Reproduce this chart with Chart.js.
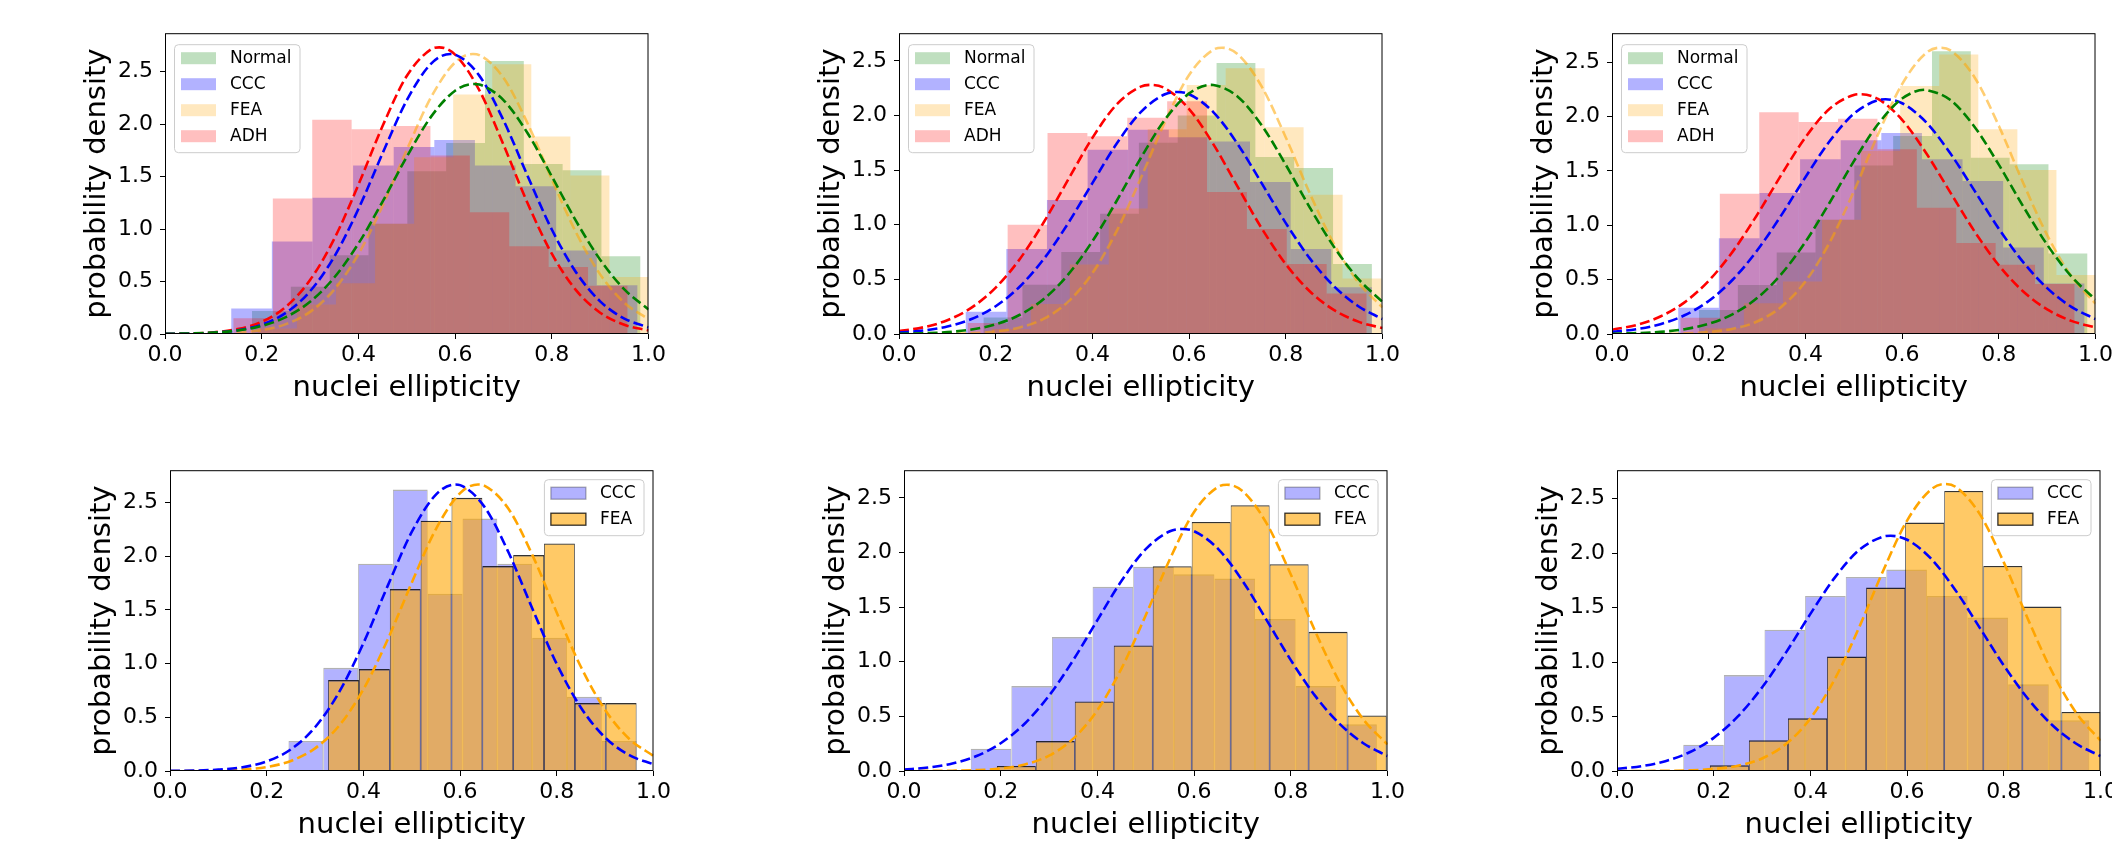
<!DOCTYPE html>
<html>
<head>
<meta charset="utf-8">
<script src="https://cdn.jsdelivr.net/npm/chart.js@4.4.1/dist/chart.umd.min.js"></script>
<style>
  html, body { margin: 0; padding: 0; background: #fff; }
  body { width: 2112px; height: 864px; position: relative; overflow: hidden; }
  canvas { position: absolute; }
</style>
</head>
<body>
<canvas id="p1"></canvas>
<canvas id="p2"></canvas>
<canvas id="p3"></canvas>
<canvas id="p4"></canvas>
<canvas id="p5"></canvas>
<canvas id="p6"></canvas>
<script>
// axis ticks
const xTicks = [0.0, 0.2, 0.4, 0.6, 0.8, 1.0];
const yTicks = [0.0, 0.5, 1.0, 1.5, 2.0, 2.5];

// histograms: [first edge, last edge] and bar heights (density)
// sample A (top left, top right, bottom right)
const normalA_span = [0.180, 0.983];
const normalA = [0.22, 0.45, 0.75, 1.05, 1.55, 1.82, 2.60, 1.62, 1.56, 0.74];
const cccA_span = [0.137, 0.977];
const cccA = [0.242, 0.881, 1.297, 1.606, 1.781, 1.848, 1.606, 1.408, 0.796, 0.465];
const feaA_span = [0.192, 1.000];
const feaA = [0.052, 0.282, 0.483, 1.050, 1.683, 2.280, 2.570, 1.882, 1.509, 0.542];
const adhA_span = [0.1415, 0.9565];
const adhA = [0.15, 1.29, 2.04, 1.95, 1.98, 1.70, 1.16, 0.836, 0.637, 0.46];

// sample B (middle column)
const normalB_span = [0.175, 0.978];
const normalB = [0.15, 0.45, 0.75, 1.10, 1.75, 2.00, 2.48, 1.62, 1.52, 0.64];
const cccB_span = [0.138, 0.978];
const cccB = [0.204, 0.777, 1.226, 1.686, 1.869, 1.800, 1.762, 1.390, 0.777, 0.427];
const feaB_span = [0.192, 0.998];
const feaB = [0.046, 0.274, 0.637, 1.149, 1.875, 2.280, 2.433, 1.893, 1.274, 0.509];
const adhB_span = [0.1422, 0.967];
const adhB = [0.10, 1.00, 1.84, 1.81, 1.98, 2.13, 1.30, 0.96, 0.64, 0.37];

// sample C (bottom left)
const cccC_span = [0.245, 0.965];
const cccC = [0.28, 0.96, 1.93, 2.62, 1.65, 2.35, 1.93, 1.24, 0.69, 0.28];
const feaC_span = [0.327, 0.965];
const feaC = [0.847, 0.949, 1.694, 2.33, 2.543, 1.908, 2.01, 2.118, 0.633, 0.633];

// fitted density curves, sampled at fitX, plus the peak [x, y]
const fitX = [0, 0.05, 0.1, 0.15, 0.2, 0.25, 0.3, 0.35, 0.4, 0.45, 0.5,
              0.55, 0.6, 0.65, 0.7, 0.75, 0.8, 0.85, 0.9, 0.95, 1.0];

const normalFit1 = [0.0017, 0.0049, 0.0135, 0.0337, 0.0769, 0.161, 0.307, 0.538, 0.861, 1.261, 1.688,
                    2.068, 2.317, 2.376, 2.228, 1.912, 1.501, 1.077, 0.708, 0.425, 0.234];
const normalPeak1 = [0.639, 2.381];
const cccFit1 = [0.0011, 0.0039, 0.0125, 0.0352, 0.0891, 0.2015, 0.407, 0.736, 1.190, 1.721, 2.225,
                 2.573, 2.661, 2.461, 2.036, 1.505, 0.995, 0.589, 0.311, 0.147, 0.062];
const cccPeak1 = [0.590, 2.667];
const feaFit1 = [0.0003, 0.0012, 0.0042, 0.0133, 0.0374, 0.0938, 0.211, 0.423, 0.760, 1.221, 1.753,
                 2.252, 2.587, 2.657, 2.441, 2.005, 1.473, 0.968, 0.568, 0.298, 0.140];
const feaPeak1 = [0.637, 2.667];
const adhFit1 = [0.0015, 0.0052, 0.0165, 0.0465, 0.116, 0.259, 0.514, 0.906, 1.421, 1.981, 2.457,
                 2.711, 2.661, 2.323, 1.804, 1.245, 0.765, 0.418, 0.203, 0.088, 0.034];
const adhPeak1 = [0.567, 2.73];

const normalFit2 = [0.0025, 0.0069, 0.0175, 0.041, 0.0885, 0.176, 0.323, 0.545, 0.849, 1.217, 1.610,
                    1.962, 2.202, 2.279, 2.174, 1.911, 1.548, 1.155, 0.795, 0.504, 0.294];
const normalPeak2 = [0.646, 2.28];
const cccFit2 = [0.0136, 0.0317, 0.0685, 0.137, 0.254, 0.435, 0.690, 1.015, 1.381, 1.741, 2.031,
                 2.194, 2.194, 2.031, 1.741, 1.381, 1.015, 0.690, 0.435, 0.254, 0.137];
const cccPeak2 = [0.575, 2.215];
const feaFit2 = [0.0002, 0.0007, 0.0025, 0.008, 0.0233, 0.0605, 0.141, 0.296, 0.557, 0.940, 1.426,
                 1.940, 2.371, 2.602, 2.563, 2.266, 1.799, 1.283, 0.821, 0.472, 0.243];
const feaPeak2 = [0.668, 2.62];
const adhFit2 = [0.0271, 0.0608, 0.126, 0.241, 0.424, 0.687, 1.027, 1.414, 1.795, 2.100, 2.264,
                 2.249, 2.059, 1.738, 1.351, 0.968, 0.639, 0.389, 0.218, 0.113, 0.054];
const adhPeak2 = [0.521, 2.28];

const normalFit3 = [0.0029, 0.0078, 0.0193, 0.0443, 0.0935, 0.183, 0.330, 0.550, 0.847, 1.207, 1.587,
                    1.928, 2.165, 2.245, 2.151, 1.904, 1.557, 1.177, 0.821, 0.530, 0.316];
const normalPeak3 = [0.648, 2.246];
const cccFit3 = [0.0199, 0.0439, 0.090, 0.172, 0.304, 0.501, 0.767, 1.091, 1.442, 1.772, 2.025,
                 2.150, 2.122, 1.946, 1.659, 1.316, 0.968, 0.663, 0.422, 0.250, 0.137];
const cccPeak3 = [0.566, 2.158];
const feaFit3 = [0.0001, 0.0005, 0.0018, 0.0059, 0.0178, 0.0478, 0.115, 0.249, 0.483, 0.840, 1.310,
                 1.833, 2.298, 2.585, 2.608, 2.359, 1.914, 1.393, 0.909, 0.532, 0.279];
const feaPeak3 = [0.679, 2.633];
const adhFit3 = [0.039, 0.0822, 0.161, 0.291, 0.489, 0.760, 1.095, 1.462, 1.808, 2.071, 2.198,
                 2.162, 1.970, 1.662, 1.300, 0.942, 0.632, 0.393, 0.226, 0.121, 0.060];
const adhPeak3 = [0.514, 2.205];

// upper y limit of each panel
const yMax = [2.865, 2.753, 2.766, 2.80, 2.753, 2.76];

// ---- layout / styles ----
const PAD_L = 110, PAD_T = 20, PAD_R = 20, PAD_B = 90;
const PLOT_W = 484, PLOT_H = 301;
const FONT = "'DejaVu Sans', 'Liberation Sans', sans-serif";
const tickFont = { family: FONT, size: 22 };
const titleFont = { family: FONT, size: 29 };

const topStyle = {
  Normal: { fill: 'rgba(0,128,0,0.25)', line: '#008000' },
  CCC:    { fill: 'rgba(0,0,255,0.3)', line: '#0000ff' },
  FEA:    { fill: 'rgba(255,165,0,0.25)', line: 'rgba(255,165,0,0.55)' },
  ADH:    { fill: 'rgba(255,0,0,0.25)', line: '#ff0000' }
};
const bottomStyle = {
  CCC: { fill: 'rgba(0,0,255,0.3)', edge: 'rgba(0,0,0,0.3)', line: '#0000ff' },
  FEA: { fill: 'rgba(255,165,0,0.6)', edge: 'rgba(0,0,0,0.8)', line: '#ffa500' }
};

const panels = [
  { id: 'p1', left: 165, top: 33, key: 'left', style: topStyle,
    hists: [['Normal', normalA_span, normalA], ['CCC', cccA_span, cccA], ['FEA', feaA_span, feaA], ['ADH', adhA_span, adhA]],
    fits: [['Normal', normalFit1, normalPeak1], ['CCC', cccFit1, cccPeak1], ['FEA', feaFit1, feaPeak1], ['ADH', adhFit1, adhPeak1]] },
  { id: 'p2', left: 899, top: 33, key: 'left', style: topStyle,
    hists: [['Normal', normalB_span, normalB], ['CCC', cccB_span, cccB], ['FEA', feaB_span, feaB], ['ADH', adhB_span, adhB]],
    fits: [['Normal', normalFit2, normalPeak2], ['CCC', cccFit2, cccPeak2], ['FEA', feaFit2, feaPeak2], ['ADH', adhFit2, adhPeak2]] },
  { id: 'p3', left: 1612, top: 33, key: 'left', style: topStyle,
    hists: [['Normal', normalA_span, normalA], ['CCC', cccA_span, cccA], ['FEA', feaA_span, feaA], ['ADH', adhA_span, adhA]],
    fits: [['Normal', normalFit3, normalPeak3], ['CCC', cccFit3, cccPeak3], ['FEA', feaFit3, feaPeak3], ['ADH', adhFit3, adhPeak3]] },
  { id: 'p4', left: 170, top: 470, key: 'right', style: bottomStyle,
    hists: [['CCC', cccC_span, cccC], ['FEA', feaC_span, feaC]],
    fits: [['CCC', cccFit1, cccPeak1], ['FEA', feaFit1, feaPeak1]] },
  { id: 'p5', left: 904, top: 470, key: 'right', style: bottomStyle,
    hists: [['CCC', cccB_span, cccB], ['FEA', feaB_span, feaB]],
    fits: [['CCC', cccFit2, cccPeak2], ['FEA', feaFit2, feaPeak2]] },
  { id: 'p6', left: 1617, top: 470, key: 'right', style: bottomStyle,
    hists: [['CCC', cccA_span, cccA], ['FEA', feaA_span, feaA]],
    fits: [['CCC', cccFit3, cccPeak3], ['FEA', feaFit3, feaPeak3]] }
];

function binPoints(span, heights) {
  const w = (span[1] - span[0]) / heights.length;
  return heights.map((h, i) => ({ x: span[0] + (i + 0.5) * w, y: h }));
}

function curvePoints(ys, peak) {
  const pts = fitX.map((x, i) => ({ x, y: ys[i] }));
  pts.push({ x: peak[0], y: peak[1] });
  return pts.sort((a, b) => a.x - b.x);
}

// spines + legend box in matplotlib style
const frameKey = {
  id: 'frameKey',
  afterDatasetsDraw(chart) {
    const { ctx, chartArea: a } = chart;
    ctx.save();
    ctx.strokeStyle = '#000';
    ctx.lineWidth = 1;
    ctx.strokeRect(a.left + 0.5, a.top + 0.5, a.right - a.left - 1, a.bottom - a.top - 1);
    ctx.restore();
  },
  afterDraw(chart, args, opts) {
    const { ctx, chartArea: a } = chart;
    const items = chart.data.datasets.filter(d => d.type === 'bar');
    ctx.save();
    ctx.font = `17px ${FONT}`;
    const tw = Math.max(...items.map(d => ctx.measureText(d.label).width));
    const w = 7 + 35 + 14 + tw + 8;
    const h = 14 + 26 * (items.length - 1) + 16;
    const x0 = opts.corner === 'right' ? a.right - 10 - w : a.left + 9;
    const y0 = opts.corner === 'right' ? a.top + 9 : a.top + 11;
    ctx.beginPath();
    ctx.roundRect(x0 + 0.5, y0 + 0.5, w, h, 4);
    ctx.fillStyle = 'rgba(255,255,255,0.8)';
    ctx.fill();
    ctx.strokeStyle = '#cccccc';
    ctx.lineWidth = 1;
    ctx.stroke();
    items.forEach((d, i) => {
      const cy = y0 + 14 + 26 * i;
      ctx.fillStyle = d.backgroundColor;
      ctx.fillRect(x0 + 7, cy - 6, 35, 12);
      if (d.edge) {
        ctx.strokeStyle = d.borderColor;
        ctx.lineWidth = 1.3;
        ctx.strokeRect(x0 + 7, cy - 6, 35, 12);
      }
      ctx.fillStyle = '#000';
      ctx.textBaseline = 'middle';
      ctx.fillText(d.label, x0 + 56, cy);
    });
    ctx.restore();
  }
};

panels.forEach((p, k) => {
  const canvas = document.getElementById(p.id);
  canvas.width = PAD_L + PLOT_W + PAD_R;
  canvas.height = PAD_T + PLOT_H + PAD_B;
  canvas.style.left = (p.left - PAD_L) + 'px';
  canvas.style.top = (p.top - PAD_T) + 'px';

  const scales = {
    x: {
      type: 'linear', min: 0, max: 1, offset: false,
      afterBuildTicks: s => { s.ticks = xTicks.map(v => ({ value: v })); },
      afterFit: s => { s.height = PAD_B; },
      ticks: { callback: v => Number(v).toFixed(1), font: tickFont, color: '#000', padding: 3, maxRotation: 0, autoSkip: false },
      grid: { drawOnChartArea: false, tickLength: 5, color: '#000', offset: false },
      border: { display: false },
      title: { display: true, text: 'nuclei ellipticity', font: titleFont, color: '#000', padding: { bottom: 18 } }
    },
    y: {
      type: 'linear', min: 0, max: yMax[k],
      afterBuildTicks: s => { s.ticks = yTicks.map(v => ({ value: v })); },
      afterFit: s => { s.width = PAD_L; },
      ticks: { callback: v => Number(v).toFixed(1), font: tickFont, color: '#000', padding: 7 },
      grid: { drawOnChartArea: false, tickLength: 5, color: '#000' },
      border: { display: false },
      title: { display: true, text: 'probability density', font: titleFont, color: '#000', padding: { top: 25 } }
    }
  };

  const datasets = [];
  const n = p.hists.length;
  p.hists.forEach(([label, span, heights], i) => {
    const axisId = 'xh' + i;
    scales[axisId] = { type: 'linear', display: false, min: 0, max: 1, offset: false, ticks: { stepSize: 0.5 }, grid: { offset: false } };
    const st = p.style[label];
    datasets.push({
      type: 'bar', label, xAxisID: axisId,
      data: binPoints(span, heights),
      backgroundColor: st.fill,
      borderColor: st.edge || 'rgba(0,0,0,0)',
      borderWidth: st.edge ? { left: 0.8, right: 0.8, top: 1.4, bottom: 0 } : 0,
      edge: !!st.edge,
      grouped: false,
      barPercentage: 1, categoryPercentage: 1, inflateAmount: 0,
      order: n - i + 1
    });
  });
  p.fits.forEach(([label, ys, peak]) => {
    datasets.push({
      type: 'line', label: label + ' fit', xAxisID: 'x',
      data: curvePoints(ys, peak),
      borderColor: p.style[label].line,
      borderWidth: 2.6, borderDash: [10, 4.3],
      pointRadius: 0, pointHoverRadius: 0, fill: false,
      cubicInterpolationMode: 'monotone', order: 0
    });
  });

  new Chart(canvas, {
    type: 'bar',
    data: { datasets },
    options: {
      responsive: false, animation: false, devicePixelRatio: 1,
      layout: { padding: { left: 0, top: PAD_T, right: PAD_R, bottom: 0 } },
      plugins: { legend: { display: false }, tooltip: { enabled: false }, frameKey: { corner: p.key } },
      scales
    },
    plugins: [frameKey]
  });
});
</script>
</body>
</html>
